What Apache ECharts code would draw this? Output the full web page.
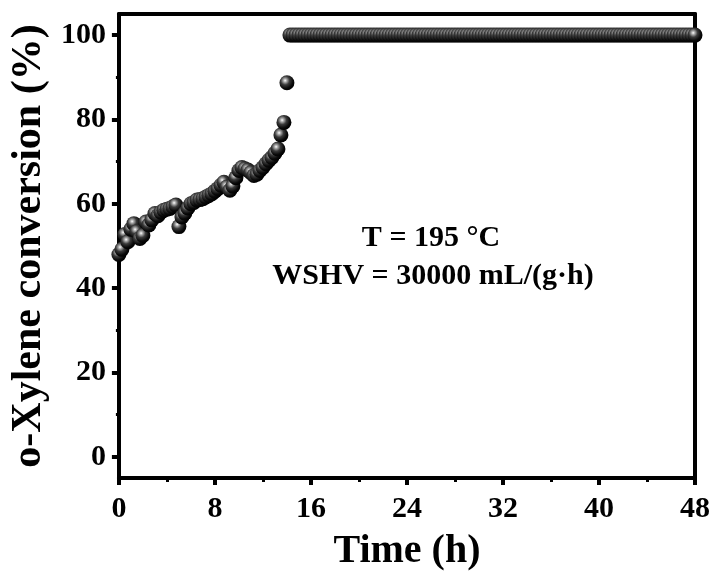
<!DOCTYPE html>
<html>
<head>
<meta charset="utf-8">
<script src="https://cdn.jsdelivr.net/npm/echarts@6/dist/echarts.min.js"></script>
<style>html,body{margin:0;padding:0;background:#fff;}#c{width:713px;height:577px;}</style>
</head>
<body>
<div id="c"></div>
<script>
// ---- data ----
var timeEarly = [0,0.25,0.5,0.75,1,1.25,1.5,1.75,2,2.25,2.5,2.75,3,3.25,3.5,3.75,4,4.25,4.5,4.75,
  5,5.25,5.5,5.75,6,6.25,6.5,6.75,7,7.25,7.5,7.75,8,8.25,8.5,8.75,9,9.25,9.5,9.75,
  10,10.25,10.5,10.75,11,11.25,11.5,11.75,12,12.25,12.5,12.75,13,13.25,13.5,13.75,14];
var convEarly = [48.0,49.2,52.7,51.0,54.0,55.3,53.4,51.8,52.5,55.7,55.0,56.2,57.7,57.2,58.0,58.5,58.7,58.9,59.3,59.7,
  54.6,56.9,57.8,59.0,60.0,60.3,60.9,61.0,61.2,61.6,62.0,62.4,63.0,63.6,64.4,65.1,64.0,63.2,64.2,66.2,
  67.9,68.6,68.3,68.0,67.4,66.7,67.0,67.9,68.6,69.5,70.3,71.0,72.0,73.0,76.3,79.3,88.7];
var timeLate = [14.25,14.5,14.75,
  15,15.25,15.5,15.75,16,16.25,16.5,16.75,17,17.25,17.5,17.75,18,18.25,18.5,18.75,19,19.25,19.5,19.75,
  20,20.25,20.5,20.75,21,21.25,21.5,21.75,22,22.25,22.5,22.75,23,23.25,23.5,23.75,24,24.25,24.5,24.75,
  25,25.25,25.5,25.75,26,26.25,26.5,26.75,27,27.25,27.5,27.75,28,28.25,28.5,28.75,29,29.25,29.5,29.75,
  30,30.25,30.5,30.75,31,31.25,31.5,31.75,32,32.25,32.5,32.75,33,33.25,33.5,33.75,34,34.25,34.5,34.75,
  35,35.25,35.5,35.75,36,36.25,36.5,36.75,37,37.25,37.5,37.75,38,38.25,38.5,38.75,39,39.25,39.5,39.75,
  40,40.25,40.5,40.75,41,41.25,41.5,41.75,42,42.25,42.5,42.75,43,43.25,43.5,43.75,44,44.25,44.5,44.75,
  45,45.25,45.5,45.75,46,46.25,46.5,46.75,47,47.25,47.5,47.75,48];
var convLate = [100,100,100,100,100,100,100,100,100,100,100,100,100,100,100,100,100,
  100,100,100,100,100,100,100,100,100,100,100,100,100,100,100,100,100,
  100,100,100,100,100,100,100,100,100,100,100,100,100,100,100,100,100,
  100,100,100,100,100,100,100,100,100,100,100,100,100,100,100,100,100,
  100,100,100,100,100,100,100,100,100,100,100,100,100,100,100,100,100,
  100,100,100,100,100,100,100,100,100,100,100,100,100,100,100,100,100,
  100,100,100,100,100,100,100,100,100,100,100,100,100,100,100,100,100,
  100,100,100,100,100,100,100,100,100,100,100,100,100,100,100,100,100];
var yMajorTicks = [0,20,40,60,80,100];
var yMinorTicks = [10,30,50,70,90];
var xTitle = 'Time (h)';
var yTitle = 'o-Xylene conversion (%)';
var noteLines = ['T = 195 °C', 'WSHV = 30000 mL/(g·h)'];

// ---- chart ----
var FONT = '"Liberation Serif","Times New Roman",serif';
var pts = [];
for (var i = 0; i < timeEarly.length; i++) pts.push([timeEarly[i], convEarly[i]]);
for (var j = 0; j < timeLate.length; j++) pts.push([timeLate[j], convLate[j]]);

var ball = {
  type: 'radial', x: 0.38, y: 0.35, r: 0.65,
  colorStops: [
    {offset: 0, color: '#ffffff'},
    {offset: 0.15, color: '#b5b5b5'},
    {offset: 0.45, color: '#3a3a3a'},
    {offset: 0.8, color: '#0a0a0a'},
    {offset: 1, color: '#000000'}
  ]
};

var chart = echarts.init(document.getElementById('c'), null, {renderer: 'canvas'});
var axisLineStyle = {color: '#000', width: 4};
chart.setOption({
  animation: false,
  backgroundColor: '#fff',
  grid: {left: 117, right: 15, top: 14, bottom: 95, containLabel: false},
  xAxis: [{
    type: 'value', position: 'bottom', min: 0, max: 48, interval: 8,
    axisLine: {show: true, onZero: false, lineStyle: axisLineStyle},
    axisTick: {show: true, inside: false, length: 7, lineStyle: {color: '#000', width: 4}},
    minorTick: {show: true, splitNumber: 2, length: 4, lineStyle: {color: '#000', width: 3}},
    splitLine: {show: false},
    axisLabel: {color: '#000', fontFamily: FONT, fontWeight: 'bold', fontSize: 30, margin: 16},
    name: xTitle, nameLocation: 'middle', nameGap: 54,
    nameTextStyle: {color: '#000', fontFamily: FONT, fontWeight: 'bold', fontSize: 40}
  }, {
    type: 'value', position: 'top', min: 0, max: 48,
    axisLine: {show: true, onZero: false, lineStyle: axisLineStyle},
    axisTick: {show: false}, axisLabel: {show: false}, splitLine: {show: false}
  }],
  yAxis: [{
    type: 'value', position: 'left', min: -5, max: 105,
    axisLine: {show: true, onZero: false, lineStyle: axisLineStyle},
    axisTick: {show: true, inside: false, length: 7, customValues: yMajorTicks, lineStyle: {color: '#000', width: 4}},
    axisLabel: {show: true, customValues: yMajorTicks, color: '#000', fontFamily: FONT, fontWeight: 'bold', fontSize: 30, margin: 13},
    splitLine: {show: false},
    name: yTitle, nameLocation: 'middle', nameGap: 62, nameRotate: 90,
    nameTextStyle: {color: '#000', fontFamily: FONT, fontWeight: 'bold', fontSize: 42}
  }, {
    type: 'value', position: 'left', min: -5, max: 105,
    axisLine: {show: false, onZero: false},
    axisTick: {show: true, inside: false, length: 3, customValues: yMinorTicks, lineStyle: {color: '#000', width: 3}},
    axisLabel: {show: false}, splitLine: {show: false}
  }, {
    type: 'value', position: 'right', min: -5, max: 105,
    axisLine: {show: true, onZero: false, lineStyle: axisLineStyle},
    axisTick: {show: false}, axisLabel: {show: false}, splitLine: {show: false}
  }],
  series: [{
    type: 'scatter', xAxisIndex: 0, yAxisIndex: 0,
    data: pts, symbol: 'circle', symbolSize: 15, clip: false,
    itemStyle: {color: ball, opacity: 1},
    z: 3
  }],
  graphic: [{
    type: 'text', x: 431, y: 238,
    style: {text: noteLines[0], fill: '#000', font: 'bold 30px ' + FONT, textAlign: 'center', textVerticalAlign: 'middle'}
  }, {
    type: 'text', x: 433, y: 276,
    style: {text: noteLines[1], fill: '#000', font: 'bold 30px ' + FONT, textAlign: 'center', textVerticalAlign: 'middle'}
  }]
});
</script>
</body>
</html>
